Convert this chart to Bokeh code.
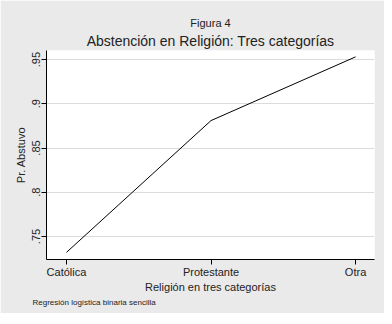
from bokeh.plotting import figure
from bokeh.models import FixedTicker, Title
from bokeh.embed import file_html
from bokeh.resources import INLINE

categories = ["Católica", "Protestante", "Otra"]
x_pos = [1, 2, 3]
pr_abstuvo = [0.732, 0.881, 0.953]
y_ticks = [0.75, 0.8, 0.85, 0.9, 0.95]
y_tick_labels = [".75", ".8", ".85", ".9", ".95"]

FONT = "Liberation Sans"

p = figure(frame_width=328, frame_height=209, output_backend="svg", toolbar_location=None,
           x_range=(0.862, 3.131), y_range=(0.724, 0.9602),
           min_border_left=46, min_border_right=10, min_border_top=50, min_border_bottom=54)
p.title = None
p.background_fill_color = "white"
p.border_fill_color = "#eaeaea"
p.outline_line_color = None

p.line(x_pos, pr_abstuvo, line_color="black", line_width=1)

p.xgrid.visible = False
p.ygrid.grid_line_color = "#dcdcdc"
p.ygrid.ticker = FixedTicker(ticks=y_ticks)

p.xaxis.ticker = FixedTicker(ticks=x_pos)
p.xaxis.major_label_overrides = {x: c for x, c in zip(x_pos, categories)}
p.yaxis.ticker = FixedTicker(ticks=y_ticks)
p.yaxis.major_label_overrides = {v: l for v, l in zip(y_ticks, y_tick_labels)}
p.yaxis.major_label_orientation = "vertical"

for ax in (p.xaxis[0], p.yaxis[0]):
    ax.axis_line_color = "black"
    ax.major_tick_line_color = "black"
    ax.major_tick_out = 5
    ax.major_tick_in = 0
    ax.minor_tick_line_color = None
    ax.major_label_text_font = FONT
    ax.major_label_text_font_size = "11px"
    ax.major_label_text_color = "#222222"
    ax.axis_label_text_font = FONT
    ax.axis_label_text_font_size = "11px"
    ax.axis_label_text_font_style = "normal"
    ax.axis_label_text_color = "#222222"
    ax.major_label_standoff = 1
    ax.axis_label_standoff = 0

p.xaxis.axis_label = "Religión en tres categorías"
p.yaxis.axis_label = "Pr. Abstuvo"
p.yaxis.axis_label_standoff = 3
p.xaxis.major_label_text_line_height = 0.9
p.xaxis.axis_label_text_line_height = 0.9

note = Title(text="Regresión logística binaria sencilla", align="left", offset=-14,
             standoff=0,
             text_font=FONT, text_font_size="8px", text_font_style="normal",
             text_color="#222222")
p.add_layout(note, "below")

t_main = Title(text="Abstención en Religión: Tres categorías", align="center",
               standoff=4,
               text_font=FONT, text_font_size="14px", text_font_style="normal",
               text_color="#222222")
p.add_layout(t_main, "above")
t_fig = Title(text="Figura 4", align="center", standoff=0,
              text_font=FONT, text_font_size="11px", text_font_style="normal",
              text_color="#222222")
p.add_layout(t_fig, "above")

open("out.html", "w").write(file_html(p, INLINE))
